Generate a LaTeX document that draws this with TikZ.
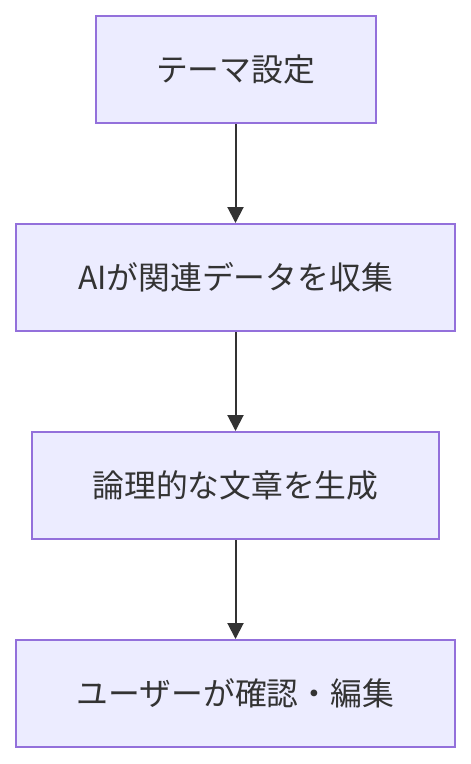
\documentclass[tikz,border=0pt]{standalone}
\usepackage{fontspec}
\newfontfamily\cjk{Noto Sans CJK JP}
\usetikzlibrary{arrows.meta}
\definecolor{boxfill}{HTML}{ECECFF}
\definecolor{boxline}{HTML}{9370DB}
\definecolor{ink}{HTML}{333333}
\tikzset{
  stepbox/.style={draw=boxline, fill=boxfill, line width=2pt, minimum height=107pt,
    inner sep=0pt, text=ink, font=\cjk\fontsize{31.8pt}{38pt}\selectfont},
  flow/.style={draw=ink, line width=2pt, -{Triangle[width=16pt,length=16pt]}}
}
\begin{document}
\begin{tikzpicture}[x=1pt,y=-1pt]
\useasboundingbox (0,0) rectangle (471,764);
\node[stepbox, minimum width=280pt] (a) at (235.5,69.5) {テーマ設定};
\node[stepbox, minimum width=439pt] (b) at (235.5,277.5) {AIが関連データを収集};
\node[stepbox, minimum width=407pt] (c) at (235.5,485.5) {論理的な文章を生成};
\node[stepbox, minimum width=439pt] (d) at (235.5,693.5) {ユーザーが確認・編集};
\draw[flow] (a) -- (b);
\draw[flow] (b) -- (c);
\draw[flow] (c) -- (d);
\end{tikzpicture}
\end{document}
